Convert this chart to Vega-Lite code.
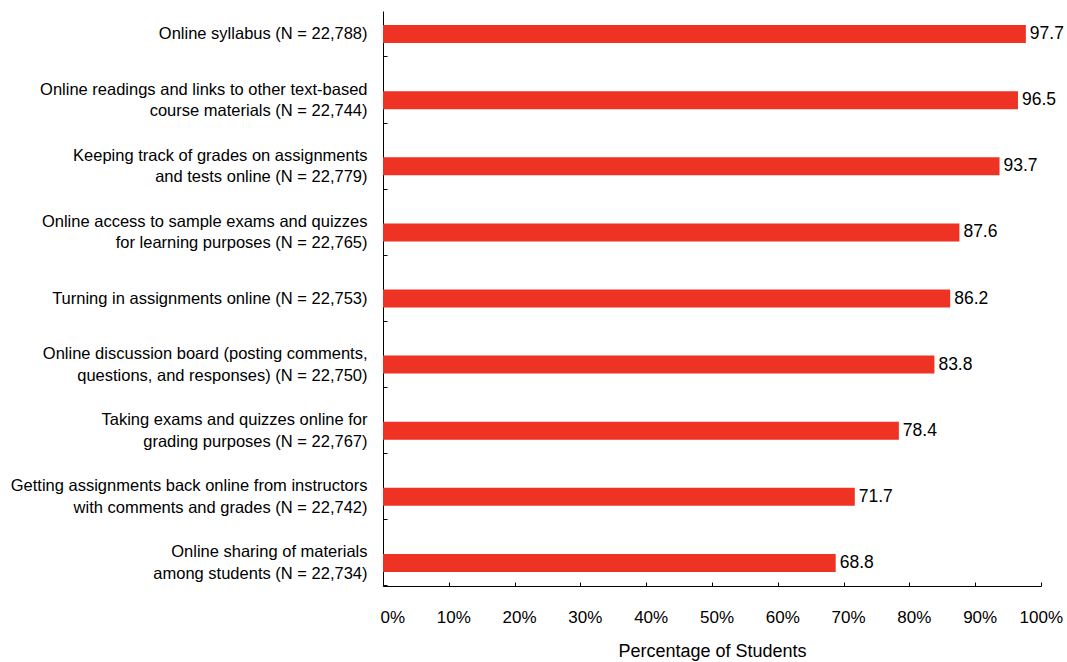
{
  "$schema": "https://vega.github.io/schema/vega-lite/v6.json",
  "width": 658,
  "height": 575,
  "autosize": {"type": "none"},
  "padding": {"left": 383, "top": 11, "right": 26, "bottom": 76},
  "config": {
    "view": {"stroke": null},
    "font": "Liberation Sans",
    "axis": {"grid": false, "domainColor": "#000000", "tickColor": "#000000", "labelColor": "#000000", "titleColor": "#000000", "labelFont": "Liberation Sans", "titleFont": "Liberation Sans"}
  },
  "data": {
    "values": [
      {"item": "Online syllabus (N = 22,788)", "pct": 97.7},
      {"item": "Online readings and links to other text-based|course materials (N = 22,744)", "pct": 96.5},
      {"item": "Keeping track of grades on assignments|and tests online (N = 22,779)", "pct": 93.7},
      {"item": "Online access to sample exams and quizzes|for learning purposes (N = 22,765)", "pct": 87.6},
      {"item": "Turning in assignments online (N = 22,753)", "pct": 86.2},
      {"item": "Online discussion board (posting comments,|questions, and responses) (N = 22,750)", "pct": 83.8},
      {"item": "Taking exams and quizzes online for|grading purposes (N = 22,767)", "pct": 78.4},
      {"item": "Getting assignments back online from instructors|with comments and grades (N = 22,742)", "pct": 71.7},
      {"item": "Online sharing of materials|among students (N = 22,734)", "pct": 68.8}
    ]
  },
  "encoding": {
    "y": {
      "field": "item",
      "type": "nominal",
      "sort": null,
      "scale": {"paddingInner": 0.728, "paddingOuter": 0.2135},
      "axis": {
        "title": null,
        "labelExpr": "split(datum.label, '|')",
        "labelFontSize": 16.5,
        "labelLineHeight": 21.5,
        "labelLimit": 400,
        "labelPadding": 20,
        "tickSize": -4,
        "bandPosition": 1.77,
        "labelBaseline": "middle",
        "labelOffset": {"condition": {"test": "indexof(datum.value, '|') >= 0", "value": -10.5}, "value": 0}
      }
    },
    "x": {
      "field": "pct",
      "type": "quantitative",
      "scale": {"domain": [0, 100], "nice": false},
      "axis": {
        "values": [0, 10, 20, 30, 40, 50, 60, 70, 80, 90, 100],
        "labelExpr": "datum.value + '%'",
        "labelFontSize": 17,
        "labelAlign": "right",
        "labelOffset": 21.5,
        "labelFlush": false,
        "labelOverlap": false,
        "labelBaseline": "alphabetic",
        "labelPadding": 40,
        "tickSize": -4,
        "title": "Percentage of Students",
        "titleFontSize": 18,
        "titleFontWeight": "normal",
        "titleBaseline": "alphabetic",
        "titleY": 70
      }
    }
  },
  "layer": [
    {"mark": {"type": "bar", "color": "#EE3224"}},
    {
      "mark": {"type": "text", "align": "left", "baseline": "middle", "dx": 4, "fontSize": 17.5, "color": "#000000"},
      "encoding": {"text": {"field": "pct", "type": "quantitative", "format": ".1f"}}
    }
  ]
}
